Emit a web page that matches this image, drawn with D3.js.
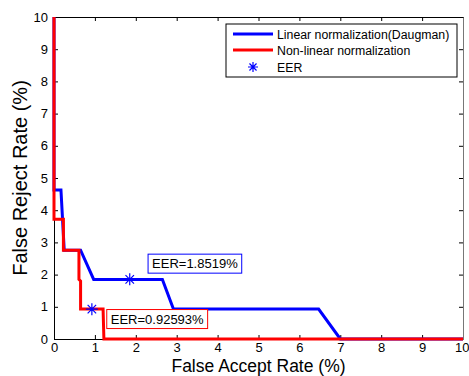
<!DOCTYPE html>
<html>
<head>
<meta charset="utf-8">
<script src="https://cdn.jsdelivr.net/npm/d3@7"></script>
<style>
  body { margin: 0; background: #fff; }
  svg { display: block; font-family: "Liberation Sans", Arial, sans-serif; }
</style>
</head>
<body>
<svg id="chart" width="469" height="376"></svg>
<script>
// values
const xTicks = [0, 1, 2, 3, 4, 5, 6, 7, 8, 9, 10];
const yTicks = [0, 1, 2, 3, 4, 5, 6, 7, 8, 9, 10];

const linearFAR = [0, 0, 0.17, 0.25, 0.65, 0.97, 2.65, 2.92, 6.47, 7.0, 10];
const linearFRR = [10, 4.63, 4.63, 2.76, 2.76, 1.85, 1.85, 0.93, 0.93, 0, 0];

const nonlinFAR = [0, 0, 0.23, 0.23, 0.61, 0.61, 0.65, 0.65, 1.2, 1.22, 10];
const nonlinFRR = [10, 3.72, 3.72, 2.76, 2.76, 1.85, 1.8, 0.93, 0.93, 0, 0];

const eerX = [1.8519, 0.92593];
const eerY = [1.8519, 0.92593];
const eerText = ['EER=1.8519%', 'EER=0.92593%'];

const legendNames = ['Linear normalization(Daugman)', 'Non-linear normalization', 'EER'];

const svg = d3.select('#chart');
const m = { left: 54, right: 6, top: 17, bottom: 37 };
const W = 469, H = 376;

const x = d3.scaleLinear().domain([0, 10]).range([m.left, W - m.right]);
const y = d3.scaleLinear().domain([0, 10]).range([H - m.bottom, m.top]);

// axes box with inward ticks
const gx = svg.append('g').attr('transform', `translate(0,${y(0)})`)
  .call(d3.axisBottom(x).tickValues(xTicks).tickSizeInner(-4).tickSizeOuter(0).tickPadding(4));
const gxt = svg.append('g').attr('transform', `translate(0,${y(10)})`)
  .call(d3.axisTop(x).tickValues(xTicks).tickSizeInner(-4).tickSizeOuter(0).tickFormat(''));
const gy = svg.append('g').attr('transform', `translate(${x(0)},0)`)
  .call(d3.axisLeft(y).tickValues(yTicks).tickSizeInner(-4).tickSizeOuter(0).tickPadding(6));
const gyr = svg.append('g').attr('transform', `translate(${x(10)},0)`)
  .call(d3.axisRight(y).tickValues(yTicks).tickSizeInner(-4).tickSizeOuter(0).tickFormat(''));

[gx, gxt, gy, gyr].forEach(g => {
  g.select('.domain').attr('stroke', '#000').attr('stroke-width', 1);
  g.selectAll('.tick line').attr('stroke', '#000');
  g.selectAll('text').attr('font-size', 13).attr('font-family', '"Liberation Sans", Arial, sans-serif').attr('fill', '#000');
});
gyr.select('.domain').attr('stroke', '#777');
// keep the last x label inside the window
gx.selectAll('.tick text').filter(d => d === 10).attr('text-anchor', 'end').attr('dx', 6);

const line = d3.line().x(d => x(d[0])).y(d => y(d[1]));

svg.append('path')
  .datum(linearFAR.map((v, i) => [v, linearFRR[i]]))
  .attr('d', line).attr('fill', 'none').attr('stroke', '#0000ff').attr('stroke-width', 3);

svg.append('path')
  .datum(nonlinFAR.map((v, i) => [v, nonlinFRR[i]]))
  .attr('d', line).attr('fill', 'none').attr('stroke', '#ff0000').attr('stroke-width', 3);

// asterisk marker
function star(s) {
  const d = s * 0.707;
  return `M${-s},0L${s},0M0,${-s}L0,${s}M${-d},${-d}L${d},${d}M${-d},${d}L${d},${-d}`;
}

svg.selectAll('.eer').data(eerX).enter().append('path')
  .attr('class', 'eer')
  .attr('transform', (d, i) => `translate(${x(d)},${y(eerY[i])})`)
  .attr('d', star(6)).attr('stroke', '#0000ff').attr('stroke-width', 1.2).attr('fill', 'none');

// EER annotations
const notes = [
  { xv: 2.3, yv: 2.34, color: '#0000ff' },
  { xv: 1.29, yv: 0.62, color: '#ff0000' }
];
notes.forEach((n, i) => {
  const g = svg.append('g').attr('transform', `translate(${x(n.xv)},${y(n.yv)})`);
  const t = g.append('text').attr('x', 4).attr('y', 4.5).attr('font-size', 13).attr('fill', '#000').text(eerText[i]);
  const w = t.node().getComputedTextLength() + 8;
  g.insert('rect', 'text').attr('x', 0).attr('y', -9.5).attr('width', w).attr('height', 19)
    .attr('fill', '#fff').attr('stroke', n.color).attr('stroke-width', 1);
});

// legend
const lg = svg.append('g').attr('transform', 'translate(226,24)');
lg.append('rect').attr('width', 231).attr('height', 53).attr('fill', '#fff').attr('stroke', '#000');
const rowY = [10, 26, 43];
lg.append('line').attr('x1', 7).attr('x2', 47).attr('y1', rowY[0]).attr('y2', rowY[0]).attr('stroke', '#0000ff').attr('stroke-width', 3);
lg.append('line').attr('x1', 7).attr('x2', 47).attr('y1', rowY[1]).attr('y2', rowY[1]).attr('stroke', '#ff0000').attr('stroke-width', 3);
lg.append('path').attr('transform', `translate(27,${rowY[2]})`).attr('d', star(5))
  .attr('stroke', '#0000ff').attr('stroke-width', 1.2).attr('fill', 'none');
legendNames.forEach((name, i) => {
  lg.append('text').attr('x', 51).attr('y', rowY[i] + 4.5).attr('font-size', 12.3).attr('fill', '#000').text(name);
});

// axis titles
svg.append('text').attr('x', (x(0) + x(10)) / 2).attr('y', 372.3).attr('text-anchor', 'middle')
  .attr('font-size', 17.5).attr('fill', '#000').text('False Accept Rate (%)');
svg.append('text').attr('transform', `translate(27,${(y(0) + y(10)) / 2}) rotate(-90)`)
  .attr('text-anchor', 'middle').attr('font-size', 20).attr('fill', '#000').text('False Reject Rate (%)');
</script>
</body>
</html>
